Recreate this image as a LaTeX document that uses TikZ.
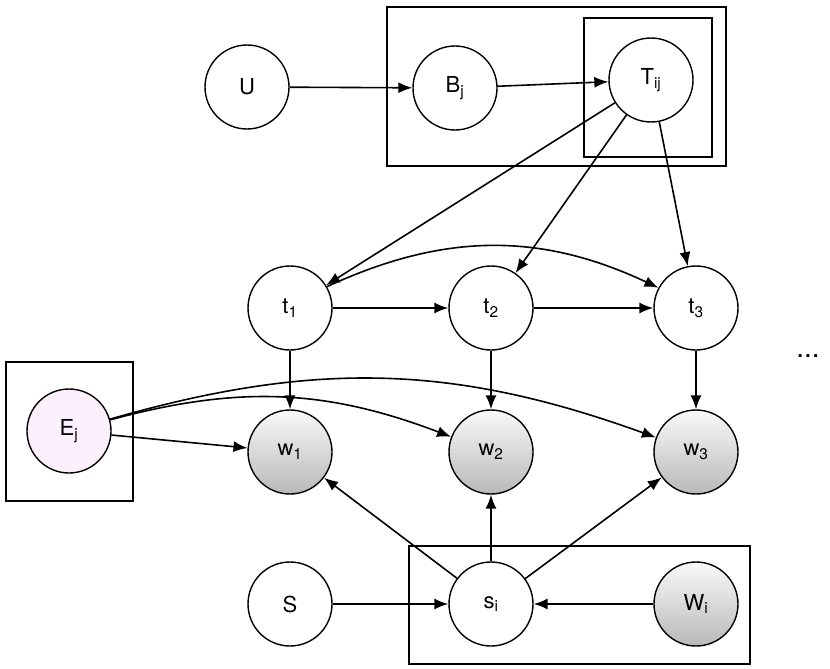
\documentclass[tikz,border=0pt]{standalone}
\usepackage{fontspec}
\setmainfont{TeX Gyre Heros}
\usetikzlibrary{arrows.meta}
\definecolor{pinkfill}{RGB}{253,240,253}
\tikzset{
  var/.style={circle,draw,line width=1.4pt,minimum size=84pt,inner sep=0pt,font=\fontsize{22}{24}\selectfont},
  obs/.style={var,top color=gray!5,bottom color=gray!55},
  plate/.style={draw,line width=1.4pt},
  edge/.style={-{Latex[length=14pt,width=11pt]},line width=1.6pt}
}
\newcommand{\sub}[1]{\textsubscript{#1}}
\begin{document}
\begin{tikzpicture}[x=1pt,y=-1pt]
\useasboundingbox (0,0) rectangle (830,669);
% Plates
\draw[plate] (387,7) rectangle (726,166);
\draw[plate] (584,18) rectangle (712,157);
\draw[plate] (6,362) rectangle (133,501);
\draw[plate] (409,546) rectangle (750,664);
% Nodes
\node[var] (U) at (247,87) {U};
\node[var] (B) at (455,88) {B\sub{j}};
\node[var] (T) at (651,80) {T\sub{ij}};
\node[var] (t1) at (290,308) {t\sub{1}};
\node[var] (t2) at (491,308) {t\sub{2}};
\node[var] (t3) at (696,308) {t\sub{3}};
\node[var,fill=pinkfill] (E) at (69,431) {E\sub{j}};
\node[obs] (w1) at (290,452) {w\sub{1}};
\node[obs] (w2) at (491,452) {w\sub{2}};
\node[obs] (w3) at (696,452) {w\sub{3}};
\node[var] (S) at (290,604) {S};
\node[var] (s) at (491,604) {s\sub{i}};
\node[obs] (W) at (696,604) {W\sub{i}};
\node[font=\fontsize{28}{30}\selectfont] (dots) at (808,356) {...};
% Edges
\draw[edge] (U) -- (B);
\draw[edge] (B) -- (T);
\draw[edge] (T) -- (t1);
\draw[edge] (T) -- (t2);
\draw[edge] (T) -- (t3);
\draw[edge] (t1) -- (t2);
\draw[edge] (t2) -- (t3);
\draw[edge] (t1.30) to[bend left=25] (t3);
\draw[edge] (t1) -- (w1);
\draw[edge] (t2) -- (w2);
\draw[edge] (t3) -- (w3);
\draw[edge] (E) -- (w1);
\draw[edge] (E) to[bend left=18] (w2);
\draw[edge] (E) to[bend left=18] (w3);
\draw[edge] (s) -- (w1);
\draw[edge] (s) -- (w2);
\draw[edge] (s) -- (w3);
\draw[edge] (S) -- (s);
\draw[edge] (W) -- (s);
\end{tikzpicture}
\end{document}
